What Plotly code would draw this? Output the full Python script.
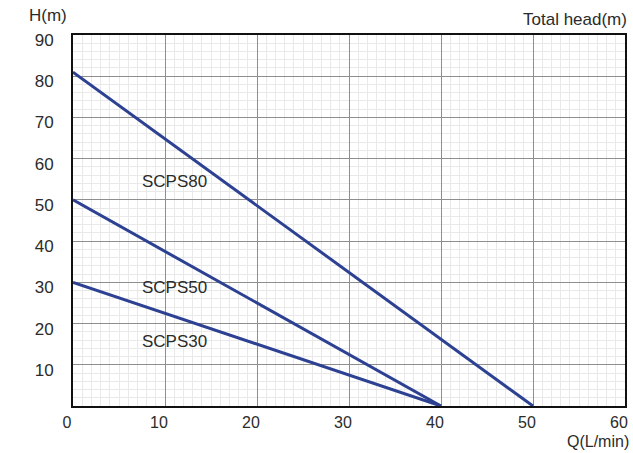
import plotly.graph_objects as go

# Data
series_names = ["SCPS80", "SCPS50", "SCPS30"]
flow_q = [[0, 50], [0, 40], [0, 40]]           # Q (L/min)
head_h = [[81, 0], [50, 0], [30, 0]]           # H (m)
label_x = [11, 11, 11]
label_y = [54.5, 28.8, 15.6]
x_ticks = [0, 10, 20, 30, 40, 50, 60]
y_ticks = [10, 20, 30, 40, 50, 60, 70, 80, 90]

LINE = "#2d4193"
TXT = "#2b2b2b"
FONT = "Liberation Sans, Arial, sans-serif"

fig = go.Figure()
for name, xs, ys in zip(series_names, flow_q, head_h):
    fig.add_trace(go.Scatter(x=xs, y=ys, mode="lines", name=name,
                             line=dict(color=LINE, width=3), showlegend=False))

for name, lx, ly in zip(series_names, label_x, label_y):
    fig.add_annotation(x=lx, y=ly, text=name, showarrow=False,
                       font=dict(size=17, color=TXT, family=FONT))

fig.add_annotation(xref="paper", yref="paper", x=-0.045, y=1.0, yshift=8,
                   text="H(m)", showarrow=False, xanchor="center", yanchor="bottom",
                   font=dict(size=17, color=TXT, family=FONT))
fig.add_annotation(xref="paper", yref="paper", x=1.0, y=1.0, xshift=4, yshift=4,
                   text="Total head(m)", showarrow=False, xanchor="right", yanchor="bottom",
                   font=dict(size=17, color=TXT, family=FONT))
fig.add_annotation(xref="paper", yref="paper", x=1.0, y=0, xshift=6, yshift=-46,
                   text="Q(L/min)", showarrow=False, xanchor="right", yanchor="bottom",
                   font=dict(size=16, color=TXT, family=FONT))

fig.update_layout(
    width=633, height=453,
    margin=dict(l=73, r=5, t=35, b=47),
    paper_bgcolor="white", plot_bgcolor="white",
    font=dict(family=FONT, color=TXT, size=17),
)
fig.update_xaxes(range=[0, 60], tickvals=x_ticks, ticks="", ticklabelstandoff=1,
                 ticklabelshift=-6, tickfont=dict(size=16),
                 showgrid=True, gridcolor="#8e8e8e", gridwidth=1,
                 minor=dict(dtick=1, showgrid=True, gridcolor="#e9e9e9", gridwidth=1),
                 showline=True, linecolor="#111", linewidth=2, mirror=True,
                 zeroline=False, fixedrange=True)
fig.update_yaxes(range=[0, 90], tickvals=y_ticks, ticks="", ticklabelstandoff=14,
                 ticklabelshift=5,
                 showgrid=True, gridcolor="#8e8e8e", gridwidth=1,
                 minor=dict(dtick=2, showgrid=True, gridcolor="#e9e9e9", gridwidth=1),
                 showline=True, linecolor="#111", linewidth=2, mirror=True,
                 zeroline=False, fixedrange=True)

fig.write_html("out.html", config={"displayModeBar": False},
               post_script="document.body.style.margin='0';")
